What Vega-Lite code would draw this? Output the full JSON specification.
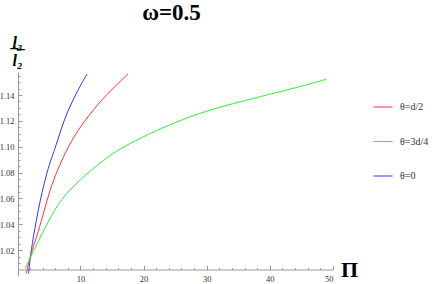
{
  "$schema": "https://vega.github.io/schema/vega-lite/v6.json",
  "autosize": "none",
  "width": 315,
  "height": 204,
  "padding": {"left": 18, "top": 72, "right": 103, "bottom": 8},
  "background": "white",
  "title": {"text": "ω=0.5", "font": "Liberation Serif", "fontSize": 23, "fontWeight": "bold", "color": "black", "anchor": "middle", "dx": -4, "baseline": "alphabetic", "offset": -9},
  "config": {"view": {"stroke": null}},
  "data": {"values": [
    {"s": "θ=0", "x": 1.79, "y": 1.0019},
    {"s": "θ=0", "x": 1.95, "y": 1.0109},
    {"s": "θ=0", "x": 2.47, "y": 1.029},
    {"s": "θ=0", "x": 3.53, "y": 1.0574},
    {"s": "θ=0", "x": 4.96, "y": 1.0858},
    {"s": "θ=0", "x": 5.91, "y": 1.0974},
    {"s": "θ=0", "x": 6.86, "y": 1.1129},
    {"s": "θ=0", "x": 8.02, "y": 1.1284},
    {"s": "θ=0", "x": 9.6, "y": 1.1439},
    {"s": "θ=0", "x": 11.03, "y": 1.1563},
    {"s": "θ=d/2", "x": 1.41, "y": 1.0019},
    {"s": "θ=d/2", "x": 2.2, "y": 1.0187},
    {"s": "θ=d/2", "x": 2.99, "y": 1.029},
    {"s": "θ=d/2", "x": 4.06, "y": 1.0471},
    {"s": "θ=d/2", "x": 5.37, "y": 1.0703},
    {"s": "θ=d/2", "x": 6.7, "y": 1.0858},
    {"s": "θ=d/2", "x": 8.02, "y": 1.0999},
    {"s": "θ=d/2", "x": 9.6, "y": 1.1129},
    {"s": "θ=d/2", "x": 11.18, "y": 1.1232},
    {"s": "θ=d/2", "x": 13.29, "y": 1.1361},
    {"s": "θ=d/2", "x": 15.41, "y": 1.1464},
    {"s": "θ=d/2", "x": 17.52, "y": 1.1563},
    {"s": "θ=3d/4", "x": 1.25, "y": 1.0058},
    {"s": "θ=3d/4", "x": 2.74, "y": 1.0213},
    {"s": "θ=3d/4", "x": 4.85, "y": 1.0419},
    {"s": "θ=3d/4", "x": 6.95, "y": 1.06},
    {"s": "θ=3d/4", "x": 9.6, "y": 1.0728},
    {"s": "θ=3d/4", "x": 11.98, "y": 1.0832},
    {"s": "θ=3d/4", "x": 15.41, "y": 1.0961},
    {"s": "θ=3d/4", "x": 18.31, "y": 1.1038},
    {"s": "θ=3d/4", "x": 23.5, "y": 1.116},
    {"s": "θ=3d/4", "x": 28.93, "y": 1.1263},
    {"s": "θ=3d/4", "x": 34.2, "y": 1.1335},
    {"s": "θ=3d/4", "x": 39.49, "y": 1.14},
    {"s": "θ=3d/4", "x": 44.77, "y": 1.1464},
    {"s": "θ=3d/4", "x": 48.89, "y": 1.1521}
  ]},
  "layer": [
    {
      "mark": {"type": "line", "strokeWidth": 1, "interpolate": "basis", "clip": true},
      "encoding": {
        "x": {"field": "x", "type": "quantitative", "scale": {"domain": [0.1, 50], "nice": false, "zero": false},
          "axis": {"orient": "bottom", "offset": -6.5, "values": [10, 20, 30, 40, 50], "tickSize": -4, "labelPadding": 9, "grid": false,
            "domainColor": "#999999", "tickColor": "#999999", "labelColor": "#333333", "labelFont": "Liberation Serif", "labelFontSize": 8.5,
            "title": "Π", "titleFont": "Liberation Serif", "titleFontSize": 22, "titleFontWeight": "bold", "titleColor": "black",
            "titleX": 331, "titleY": 6.7, "titleAlign": "center", "titleBaseline": "alphabetic"}},
        "y": {"field": "y", "type": "quantitative", "scale": {"domain": [1.0, 1.1578], "nice": false, "zero": false},
          "axis": {"orient": "left", "values": [1.02, 1.04, 1.06, 1.08, 1.1, 1.12, 1.14], "format": ".2f", "tickSize": -4, "labelPadding": 8, "grid": false,
            "domainColor": "#999999", "tickColor": "#999999", "labelColor": "#333333", "labelFont": "Liberation Serif", "labelFontSize": 8.5,
            "title": ["l̲₃̲", "l₂"], "titleAngle": 0, "titleFont": "Liberation Serif", "titleFontSize": 16, "titleFontWeight": "bold", "titleFontStyle": "italic", "titleColor": "black",
            "titleX": -1, "titleY": -25, "titleAlign": "center", "titleBaseline": "alphabetic", "titleLineHeight": 18}},
        "color": {"field": "s", "type": "nominal",
          "scale": {"domain": ["θ=d/2", "θ=3d/4", "θ=0"], "range": ["#ff3333", "#33ee33", "#3333ff"]},
          "legend": {"title": null, "orient": "none", "legendX": 355, "legendY": 25, "symbolType": "stroke", "symbolSize": 361, "symbolStrokeWidth": 1,
            "rowPadding": 19.5, "labelOffset": 7, "labelFont": "Liberation Serif", "labelFontSize": 10, "labelColor": "#333333"}}
      }
    },
    {
      "mark": {"type": "line", "strokeOpacity": 0},
      "encoding": {
        "x": {"field": "x", "type": "quantitative",
          "axis": {"orient": "bottom", "offset": -6.5, "values": [2, 4, 6, 8, 12, 14, 16, 18, 22, 24, 26, 28, 32, 34, 36, 38, 42, 44, 46, 48], "tickSize": -2, "labels": false, "domain": false, "grid": false, "tickColor": "#999999", "title": null}},
        "y": {"field": "y", "type": "quantitative",
          "axis": {"orient": "left", "values": [1.01, 1.015, 1.025, 1.03, 1.035, 1.045, 1.05, 1.055, 1.065, 1.07, 1.075, 1.085, 1.09, 1.095, 1.105, 1.11, 1.115, 1.125, 1.13, 1.135, 1.145, 1.15, 1.155], "tickSize": -2, "labels": false, "domain": false, "grid": false, "tickColor": "#999999", "title": null}},
        "detail": {"field": "s"}
      }
    }
  ],
  "resolve": {"axis": {"x": "independent", "y": "independent"}}
}
